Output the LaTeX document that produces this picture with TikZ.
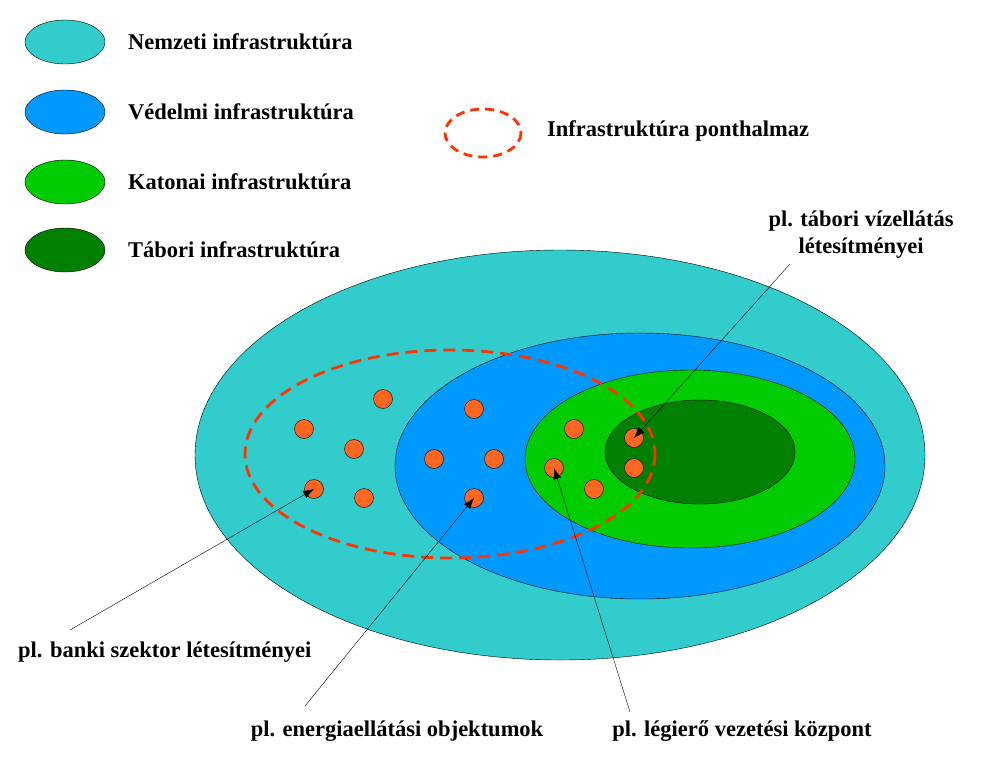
\documentclass[tikz,border=0pt]{standalone}
\usepackage{fontspec}
\setmainfont{Liberation Serif}
\usetikzlibrary{arrows.meta}
\begin{document}
\begin{tikzpicture}[x=1pt,y=-1pt,
  lbl/.style={font=\bfseries\fontsize{22.5}{27}\selectfont,inner sep=0pt},
  dot/.style={circle,draw=black,fill=dotc,minimum size=19pt,inner sep=0pt},
  arr/.style={-{Latex[length=11pt,width=8pt]},thin}]
\definecolor{cy}{HTML}{33CCCC}\definecolor{bl}{HTML}{0099FF}
\definecolor{gr}{HTML}{00CC00}\definecolor{dg}{HTML}{008000}
\definecolor{dotc}{HTML}{FF6622}\definecolor{rd}{HTML}{FF3300}
\useasboundingbox (0,0) rectangle (981,766);
% legend
\draw[fill=cy] (65,42) ellipse [x radius=40,y radius=22];
\draw[fill=bl] (65,112) ellipse [x radius=40,y radius=22];
\draw[fill=gr] (65,182) ellipse [x radius=40,y radius=22];
\draw[fill=dg] (65,250) ellipse [x radius=40,y radius=22];
\node[lbl,anchor=west] (l1) at (128,42) {Nemzeti infrastruktúra};
\node[lbl,anchor=west] (l2) at (128,112) {Védelmi infrastruktúra};
\node[lbl,anchor=west] (l3) at (128,182) {Katonai infrastruktúra};
\node[lbl,anchor=west] (l4) at (128,250) {Tábori infrastruktúra};
\draw[rd,line width=2.8pt,dash pattern=on 9pt off 6pt] (483,133) ellipse [x radius=38,y radius=24];
\node[lbl,anchor=west] (l5) at (547,131) {Infrastruktúra ponthalmaz};
% main
\draw[fill=cy] (560,455) ellipse [x radius=365,y radius=205];
\draw[fill=bl] (640,466) ellipse [x radius=245,y radius=133];
\draw[fill=gr] (690,459) ellipse [x radius=165,y radius=89];
\draw[fill=dg] (700,452) ellipse [x radius=95,y radius=52];
\draw[rd,line width=2.8pt,dash pattern=on 12pt off 7pt] (450,454) ellipse [x radius=205,y radius=104];
\foreach \n/\p in {a/{383,399},b/{304,429},c/{354,449},d/{314,489},e/{364,498},f/{474,409},g/{434,459},h/{494,459},i/{474,498},j/{574,429},k/{554,468},l/{594,489},m/{634,438},o/{634,468}}
  \node[dot] (\n) at (\p) {};
% labels
\node[lbl,align=center] (t1) at (861,235) {pl. tábori vízellátás\\létesítményei};
\node[lbl,anchor=west] (t2) at (18,652) {pl. banki szektor létesítményei};
\node[lbl] (t3) at (397,731) {pl. energiaellátási objektumok};
\node[lbl] (t4) at (742,731) {pl. légierő vezetési központ};
\coordinate (s1) at (790,264);\coordinate (s2) at (70,630);
\coordinate (s3) at (305,706);\coordinate (s4) at (630,712);
\draw[arr] (s1) -- (m.center);
\draw[arr] (s2) -- (d.center);
\draw[arr] (s3) -- (i.center);
\draw[arr] (s4) -- (k.center);
\end{tikzpicture}
\end{document}
